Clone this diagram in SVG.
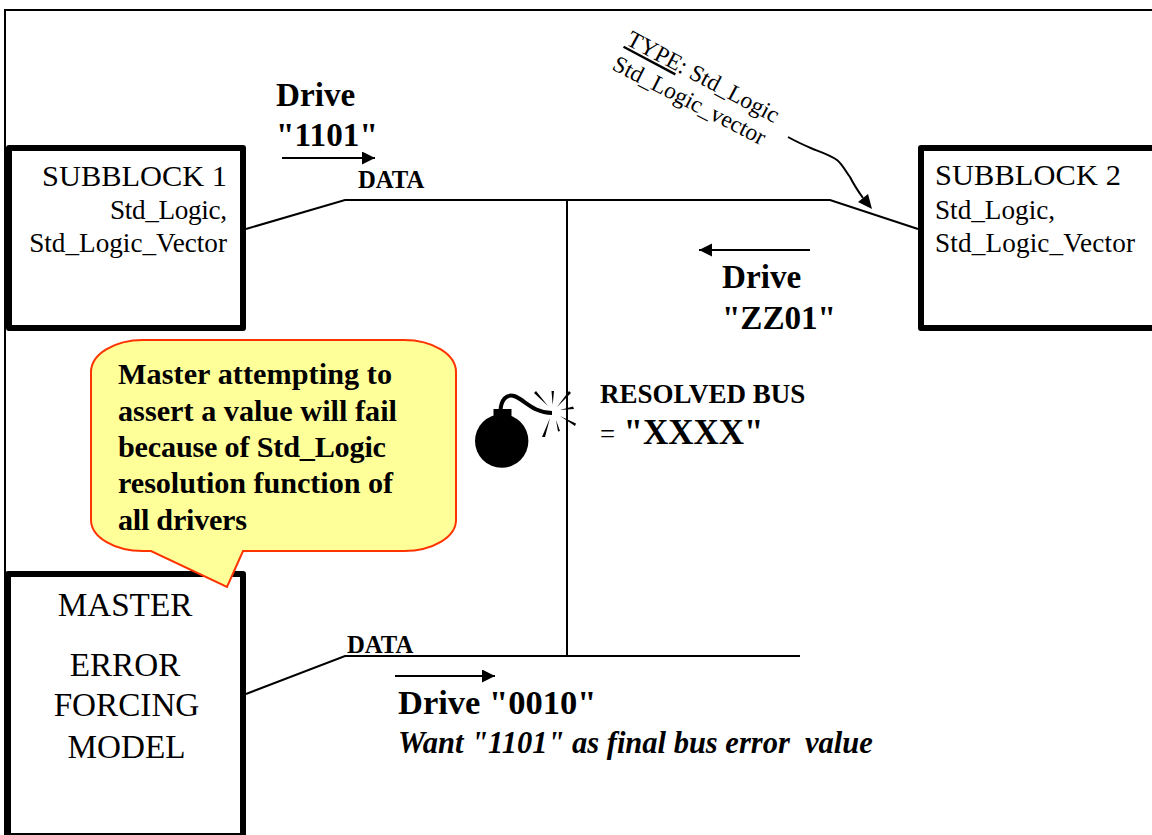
<svg xmlns="http://www.w3.org/2000/svg" width="1152" height="835" viewBox="0 0 1152 835">
<defs>
<style>
text{font-family:"Liberation Serif","Times New Roman",serif;fill:#000}
.b{font-weight:bold}
.box{fill:#fff;stroke:#000;stroke-width:6;stroke-linejoin:round}
.w{fill:none;stroke:#000;stroke-width:2}
.t30{font-size:30.4px}.t27{font-size:27.2px}.t33{font-size:33.2px}.t24{font-size:24.7px}.t23{font-size:23.5px}.c{font-size:30.2px;font-weight:bold}
</style>
<marker id="ah" markerUnits="userSpaceOnUse" markerWidth="14" markerHeight="14" refX="13" refY="6.5" orient="auto"><path d="M0 0L13 6.5L0 13Z" fill="#000"/></marker>
</defs>
<rect width="1152" height="835" fill="#fff"/>
<path id="frame" class="w" d="M1152 10H5V835"/>
<g id="connectors">
<path class="w" d="M246 229L345 200H830L918 229"/>
<path class="w" d="M567 200V656"/>
<path class="w" d="M246 694L345 656H800"/>
<path class="w" marker-end="url(#ah)" d="M282 158H375"/>
<path class="w" marker-end="url(#ah)" d="M810 250H699"/>
<path class="w" marker-end="url(#ah)" d="M395 676H495"/>
<path fill="none" stroke="#000" stroke-width="2" d="M788 137C797 142 806 146 813 149C821 152 830 155 837 160C843 165 846 172 850 177C853 183 858 191 863 198"/>
<path d="M858 202L868 194L872 209Z" fill="#000"/>
</g>
<g id="subblock1">
<rect class="box" x="9" y="148" width="234" height="180"/>
<text class="t30" x="227" y="186" text-anchor="end">SUBBLOCK 1</text>
<text class="t27" x="227" y="219" text-anchor="end" textLength="117">Std_Logic,</text>
<text class="t27" x="227" y="252" text-anchor="end">Std_Logic_Vector</text>
</g>
<g id="subblock2">
<rect class="box" x="921" y="148" width="240" height="180"/>
<text class="t30" x="935" y="185" textLength="186">SUBBLOCK 2</text>
<text class="t27" x="935" y="219">Std_Logic,</text>
<text class="t27" x="935" y="252" textLength="200">Std_Logic_Vector</text>
</g>
<g id="master">
<rect class="box" x="8" y="574" width="235" height="262"/>
<g text-anchor="middle" class="t33">
<text x="125" y="616">MASTER</text>
<text x="125" y="676">ERROR</text>
<text x="126.500" y="716">FORCING</text>
<text x="126.500" y="758">MODEL</text>
</g>
</g>
<g id="callout">
<path d="M143 340H404A52 32 0 0 1 456 372V520A52 31 0 0 1 404 551H243L227 587L151 551H143A52 31 0 0 1 91 520V372A52 32 0 0 1 143 340Z" fill="#ffff99" stroke="#ff3300" stroke-width="2"/>
<g class="c">
<text x="118" y="384" textLength="274">Master attempting to</text>
<text x="118" y="420.500" textLength="279">assert a value will fail</text>
<text x="118" y="456.500" textLength="268">because of Std_Logic</text>
<text x="118" y="493" textLength="275">resolution function of</text>
<text x="118" y="529.500" textLength="129">all drivers</text>
</g>
</g>
<g id="bomb">
<circle cx="501.7" cy="441" r="26.7" fill="#000"/>
<rect x="493.500" y="409" width="18" height="12" fill="#000"/>
<path d="M500.500 411C501 400 506 394 514 396C524 399 533 413 552 413" fill="none" stroke="#000" stroke-width="4"/>
<path d="M534 393L536 391L548 406ZM551.500 391H554L552.700 405ZM569 391L571 393L557 407ZM573 406.500L574 409L560 410ZM576 423.500L575 426L560 416ZM558 431.500L560 431L556 420ZM542 437L545 437L550 418Z" fill="#000"/>
</g>
<g id="labels">
<text class="t33 b" x="276" y="106">Drive</text>
<text class="t33 b" x="276" y="146" textLength="102">"1101"</text>
<text class="t24 b" x="358" y="188">DATA</text>
<text class="t33 b" x="722" y="288">Drive</text>
<text class="t33 b" x="722" y="328.500" textLength="114">"ZZ01"</text>
<text class="t24 b" x="347" y="653">DATA</text>
<text class="b" style="font-size:27px" x="600" y="403">RESOLVED BUS</text>
<text style="font-size:26.670px" x="600" y="443">=</text>
<text class="b" style="font-size:35px" x="623.500" y="443.500">"XXXX"</text>
<text class="b" style="font-size:34.5px" x="398" y="714">Drive "0010"</text>
<text class="b" style="font-size:30.500px;font-style:italic" x="398" y="753" xml:space="preserve">Want "1101" as final bus error  value</text>
<text class="t23" transform="translate(625 44) rotate(28)"><tspan text-decoration="underline">TYPE</tspan>: Std_Logic</text>
<text class="t23" transform="translate(611 69) rotate(27)">Std_Logic_vector</text>
</g>
</svg>
